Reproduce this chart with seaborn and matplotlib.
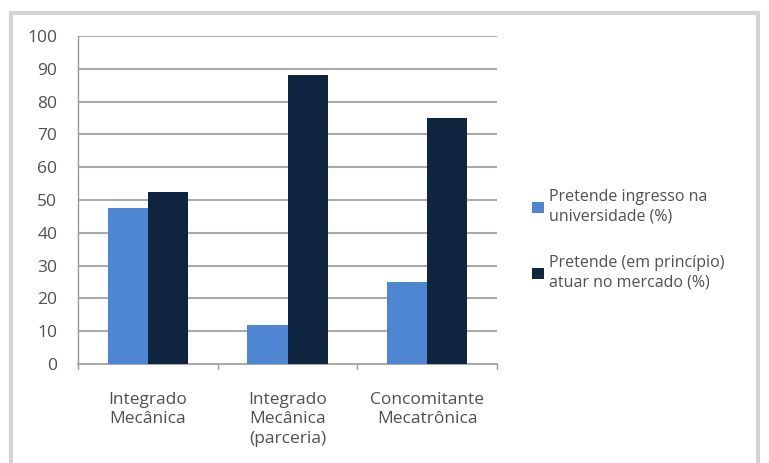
import matplotlib
matplotlib.use("Agg")
import matplotlib.pyplot as plt
import seaborn as sns
import pandas as pd
from matplotlib.patches import Rectangle

categories = ["Integrado\nMecânica", "Integrado\nMecânica\n(parceria)", "Concomitante\nMecatrônica"]
series_names = ["Pretende ingresso na\nuniversidade (%)", "Pretende (em princípio)\natuar no mercado (%)"]
universidade = [47.5, 12, 25]
mercado = [52.5, 88, 75]
yticks = [0, 10, 20, 30, 40, 50, 60, 70, 80, 90, 100]

df = pd.DataFrame({
    "cat": categories * 2,
    "serie": [series_names[0]] * 3 + [series_names[1]] * 3,
    "val": universidade + mercado,
})

sns.set_style("white")
plt.rcParams["font.family"] = ["Open Sans", "DejaVu Sans"]
txt = "#505050"

fig = plt.figure(figsize=(7.69, 4.63), dpi=100)
# outer chart frame
fig.patches.append(Rectangle((11/769, -0.05), (758-11)/769, (463-13)/463 + 0.05, transform=fig.transFigure,
                             fill=False, edgecolor="#d4d4d4", linewidth=3, zorder=0))
ax = fig.add_axes([78/769, (463-364)/463, (497-78)/769, (364-36)/463])
sns.barplot(data=df, x="cat", y="val", hue="serie", palette=["#4F86D2", "#0F243E"],
            width=0.575, saturation=1, ax=ax, zorder=3, linewidth=0, edgecolor="none")
ax.set_ylim(0, 100)
ax.set_xlim(-0.5, 2.5)
ax.set_yticks(yticks)
ax.set_yticklabels([str(t) for t in yticks], fontsize=12.5, color=txt)
ax.set_xticks([0, 1, 2])
ax.set_xticklabels(categories, fontsize=12.5, color=txt, linespacing=1.3)
ax.tick_params(axis="x", length=0, pad=20)
ax.tick_params(axis="y", length=5, width=1, color="#999999", direction="out", pad=10)
ax.set_xlabel("")
ax.set_ylabel("")
for y in yticks[1:]:
    ax.axhline(y, color="#aaaaaa", linewidth=1.5, zorder=1)
for s in ["top", "right"]:
    ax.spines[s].set_visible(False)
ax.spines["left"].set_color("#999999")
ax.spines["bottom"].set_color("#999999")
ax.spines["left"].set_linewidth(1)
ax.spines["bottom"].set_linewidth(1.2)
for xb in [-0.5, 0.5, 1.5, 2.5]:
    ax.plot([xb, xb], [0, -1.6], color="#999999", lw=1, clip_on=False)

h, l = ax.get_legend_handles_labels()
ax.legend(h, l, loc="center left", bbox_to_anchor=(518/769, (463-240)/463),
          bbox_transform=fig.transFigure, frameon=False, fontsize=11.5,
          handlelength=0.75, handleheight=0.75, handletextpad=0.3, labelspacing=1.9,
          labelcolor=txt)
for t in ax.get_legend().get_texts():
    t.set_linespacing(1.3)
fig.savefig("out.png", dpi=100)
